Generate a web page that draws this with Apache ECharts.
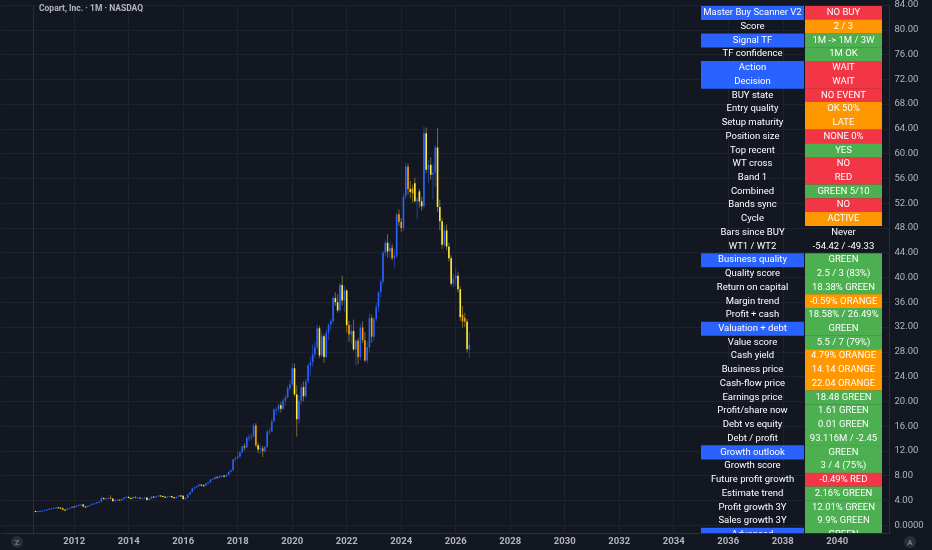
<!DOCTYPE html>
<html><head><meta charset="utf-8">
<script src="https://cdn.jsdelivr.net/npm/echarts@6/dist/echarts.min.js"></script>
<style>html,body{margin:0;padding:0;background:#131722;}#c{width:932px;height:550px;}</style>
</head><body><div id="c"></div>
<script>
// ---------- data ----------
const firstMonth = '2010-08';
const openVals = [
  2.30,2.22,2.24,2.30,2.38,
  2.45,2.55,2.66,2.72,2.82,2.88,2.84,2.80,2.50,2.47,2.70,2.78,
  3.02,2.95,3.18,3.30,3.36,3.02,3.00,3.12,3.28,3.45,3.55,3.70,
  3.78,4.40,4.26,4.32,4.42,4.30,3.88,4.06,4.12,4.02,4.22,4.46,
  4.58,4.40,4.32,4.58,4.44,4.46,4.30,4.36,4.46,4.08,4.28,4.62,
  4.56,4.64,4.80,4.72,4.60,4.54,4.62,4.70,4.50,4.36,4.58,4.82,
  4.75,4.22,4.42,4.98,5.35,5.92,6.12,6.32,6.56,6.46,6.40,6.72,
  6.92,7.38,7.48,7.76,7.70,7.96,7.98,7.86,8.12,8.62,8.86,10.62,
  10.80,11.10,11.76,12.72,12.56,14.12,14.16,14.32,16.12,12.90,12.22,12.42,
  11.95,12.65,15.10,15.15,16.80,18.70,18.72,19.38,18.80,20.10,20.65,22.12,
  22.75,25.35,21.12,17.12,20.10,22.30,20.82,23.26,25.82,26.30,27.60,28.75,
  31.80,27.42,30.50,27.15,31.10,32.40,32.96,36.70,36.00,34.70,38.80,36.30,
  37.90,32.32,30.80,31.35,28.40,29.80,27.15,31.92,29.90,26.60,28.72,33.48,
  30.45,33.30,35.20,37.60,39.30,44.00,45.60,44.20,44.80,43.10,43.52,50.20,
  49.00,48.00,53.10,57.90,54.30,54.40,55.20,52.30,53.90,52.30,51.50,63.30,
  57.40,58.20,56.60,56.90,61.00,51.40,49.10,45.30,47.60,45.00,43.10,39.00,
  39.80,40.30,38.10,34.00,33.50,32.90,28.40
];
const closeVals = [
  2.22,2.24,2.30,2.38,2.45,
  2.55,2.66,2.72,2.82,2.88,2.84,2.80,2.50,2.47,2.70,2.78,3.02,
  2.95,3.18,3.30,3.36,3.02,3.00,3.12,3.28,3.45,3.55,3.70,3.78,
  4.40,4.26,4.32,4.42,4.30,3.88,4.06,4.12,4.02,4.22,4.46,4.58,
  4.40,4.32,4.58,4.44,4.46,4.30,4.36,4.46,4.08,4.28,4.62,4.56,
  4.64,4.80,4.72,4.60,4.54,4.62,4.70,4.50,4.36,4.58,4.82,4.75,
  4.22,4.42,4.98,5.35,5.92,6.12,6.32,6.56,6.46,6.40,6.72,6.92,
  7.38,7.48,7.76,7.70,7.96,7.98,7.86,8.12,8.62,8.86,10.62,10.80,
  11.10,11.76,12.72,12.56,14.12,14.16,14.32,16.12,12.90,12.22,12.42,11.95,
  12.65,15.10,15.15,16.80,18.70,18.72,19.38,18.80,20.10,20.65,22.12,22.75,
  25.35,21.12,17.12,20.10,22.30,20.82,23.26,25.82,26.30,27.60,28.75,31.80,
  27.42,30.50,27.15,31.10,32.40,32.96,36.70,36.00,34.70,38.80,36.30,37.90,
  32.32,30.80,31.35,28.40,29.80,27.15,31.92,29.90,26.60,28.72,33.48,30.45,
  33.30,35.20,37.60,39.30,44.00,45.60,44.20,44.80,43.10,43.52,50.20,49.00,
  48.00,53.10,57.90,54.30,53.80,53.60,52.30,52.60,52.30,51.50,63.30,57.40,
  58.20,56.60,56.90,61.00,51.40,49.10,45.30,47.60,45.00,43.10,39.00,39.80,
  40.30,38.10,33.60,32.90,32.90,28.40,29.10
];
const lowVals = [
  2.14,2.13,2.20,2.26,2.34,
  2.41,2.50,2.58,2.68,2.76,2.77,2.70,2.36,2.40,2.43,2.62,2.74,
  2.88,2.92,3.12,3.22,2.96,2.92,2.95,3.08,3.24,3.38,3.48,3.62,
  3.74,4.12,4.14,4.20,4.22,3.80,3.84,3.96,3.94,3.96,4.18,4.40,
  4.30,4.22,4.24,4.36,4.34,4.24,4.22,4.30,4.02,3.98,4.24,4.46,
  4.46,4.58,4.62,4.52,4.44,4.48,4.56,4.38,4.26,4.30,4.52,4.62,
  4.10,4.12,4.38,4.92,5.30,5.78,6.04,6.24,6.30,6.22,6.30,6.62,
  6.86,7.28,7.40,7.56,7.62,7.80,7.72,7.80,8.06,8.50,8.80,10.30,
  10.70,10.90,11.60,12.10,12.50,13.60,13.80,14.20,12.60,11.60,11.50,11.00,
  11.70,12.50,14.60,15.00,16.60,17.80,18.20,18.20,18.60,19.30,20.40,21.80,
  22.60,20.80,14.30,16.40,19.40,20.00,20.60,22.90,24.20,25.60,27.00,28.30,
  27.00,27.20,26.20,27.00,29.90,31.50,32.50,35.40,34.30,34.50,35.50,34.50,
  31.10,29.60,29.30,28.10,25.80,26.00,26.60,29.40,26.40,26.10,28.00,29.50,
  29.80,32.90,34.40,36.80,38.90,43.50,43.20,43.10,42.80,41.60,43.10,48.30,
  47.40,47.50,52.60,53.40,52.80,52.10,52.10,49.40,51.30,50.80,51.10,56.80,
  55.20,55.80,52.60,54.60,50.60,47.60,44.60,44.90,44.40,42.60,38.60,38.40,
  38.60,37.60,33.00,31.90,32.00,27.90,27.00
];
const highVals = [
  2.34,2.28,2.35,2.43,2.49,
  2.59,2.71,2.76,2.87,2.93,2.94,2.92,2.84,2.62,2.75,2.83,3.06,
  3.10,3.22,3.36,3.44,3.42,3.10,3.18,3.32,3.50,3.60,3.74,3.84,
  4.62,4.48,4.40,4.50,4.84,4.36,4.12,4.20,4.24,4.30,4.52,4.66,
  4.66,4.46,4.62,4.64,4.54,4.50,4.40,4.52,4.50,4.34,4.68,4.70,
  4.72,4.86,4.88,4.78,4.68,4.70,4.78,4.76,4.56,4.64,4.88,4.90,
  4.78,4.50,5.04,5.42,6.00,6.22,6.42,6.64,6.66,6.58,6.82,7.02,
  7.46,7.58,7.86,7.92,8.06,8.10,8.08,8.22,8.72,9.02,10.74,11.10,
  11.80,12.00,12.90,13.20,14.30,14.70,14.80,16.40,16.50,13.40,13.00,12.80,
  12.90,15.40,15.70,17.10,18.90,19.10,19.70,19.90,20.50,21.10,22.50,23.50,
  26.20,26.10,22.60,21.00,22.90,23.20,23.60,26.00,27.20,29.20,29.60,32.40,
  32.20,31.30,30.80,31.60,32.60,33.30,37.00,37.60,37.30,39.10,40.30,38.60,
  38.10,33.00,32.40,33.20,30.00,30.20,32.50,32.90,31.20,29.70,34.20,34.00,
  33.60,35.90,37.80,39.70,44.30,46.00,47.00,45.80,45.40,44.60,50.40,51.00,
  49.60,53.60,58.60,58.40,55.60,55.00,56.10,53.00,54.30,53.00,64.40,64.20,
  59.00,59.40,58.40,61.40,64.10,52.60,49.60,48.40,48.60,45.60,43.60,40.60,
  41.40,40.90,38.60,35.40,34.30,33.30,31.20
];
// down months drawn in the orange tone of the indicator
const orangeMonths = ['2011-08','2012-01','2013-05','2013-09','2014-04','2014-06','2017-04',
  '2018-09','2018-12','2022-02','2022-06','2022-08','2022-09','2022-12','2023-09',
  '2023-12','2024-01','2024-04','2024-06','2026-04','2026-05'];
const axisStart = '2009-05';
const axisEnd = '2041-12';
const yearTicks = ['2012','2014','2016','2018','2020','2022','2024','2026','2028','2030','2032','2034','2036','2038','2040'];
const extraLineMonth = '2010-07';
const titleText = 'Copart, Inc. · 1M · NASDAQ';

const tableLabels = ['Master Buy Scanner V2','Score','Signal TF','TF confidence','Action','Decision','BUY state',
  'Entry quality','Setup maturity','Position size','Top recent','WT cross','Band 1','Combined','Bands sync','Cycle',
  'Bars since BUY','WT1 / WT2','Business quality','Quality score','Return on capital','Margin trend','Profit + cash',
  'Valuation + debt','Value score','Cash yield','Business price','Cash-flow price','Earnings price','Profit/share now',
  'Debt vs equity','Debt / profit','Growth outlook','Growth score','Future profit growth','Estimate trend',
  'Profit growth 3Y','Sales growth 3Y','Advanced'];
const tableLabelTone = ['B','','B','','B','B','','','','','','','','','','','','','B','','','','','B','','','','','','','','','B','','','','','','B'];
const tableValues = ['NO BUY','2 / 3','1M -> 1M / 3W','1M OK','WAIT','WAIT','NO EVENT','OK 50%','LATE','NONE 0%',
  'YES','NO','RED','GREEN 5/10','NO','ACTIVE','Never','-54.42 / -49.33','GREEN','2.5 / 3 (83%)','18.38% GREEN',
  '-0.59% ORANGE','18.58% / 26.49%','GREEN','5.5 / 7 (79%)','4.79% ORANGE','14.14 ORANGE','22.04 ORANGE',
  '18.48 GREEN','1.61 GREEN','0.01 GREEN','93.116M / -2.45','GREEN','3 / 4 (75%)','-0.49% RED','2.16% GREEN',
  '12.01% GREEN','9.9% GREEN','GREEN'];
const tableValueTone = ['R','O','G','G','R','R','R','O','O','R','G','R','R','G','R','O','','','G','G','G','O','G',
  'G','G','O','O','O','G','G','G','G','G','G','R','G','G','G','G'];

// ---------- helpers ----------
function addMonths(ym, n) {
  const p = ym.split('-').map(Number);
  const t = p[0] * 12 + (p[1] - 1) + n;
  return Math.floor(t / 12) + '-' + String(t % 12 + 1).padStart(2, '0');
}
const categories = [];
for (let m = axisStart; ; m = addMonths(m, 1)) { categories.push(m); if (m === axisEnd) break; }
const candles = openVals.map((o, k) => {
  const month = addMonths(firstMonth, k);
  const c = closeVals[k];
  const tone = c >= o ? 0 : (orangeMonths.indexOf(month) >= 0 ? 2 : 1);
  return [categories.indexOf(month), o, c, lowVals[k], highVals[k], tone];
});
const isYearTick = (v) => v.slice(5) === '01' && yearTicks.indexOf(v.slice(0, 4)) >= 0;

const BG = '#131722';
const toneColors = { B: '#2962ff', R: '#f23645', G: '#4caf50', O: '#ff9800' };
const bodyColors = ['#2962ff', '#ffeb3b', '#ff9800'];
const wickColors = ['rgba(41,98,255,0.55)', 'rgba(230,215,60,0.45)', 'rgba(230,215,60,0.45)'];

// ---------- table graphics ----------
const graphics = [];
const rowTop = 6, rowH = 13.73;
const lx = 701, lw = 103, rx = 805, rw = 77;
const tFont = '9.5px Roboto, "Noto Sans", sans-serif';
tableLabels.forEach((lab, k) => {
  const y = rowTop + k * rowH;
  if (tableLabelTone[k]) graphics.push({ type: 'rect', z: 10, silent: true,
    shape: { x: lx, y: y, width: lw, height: rowH + 0.3 }, style: { fill: toneColors[tableLabelTone[k]] } });
  if (tableValueTone[k]) graphics.push({ type: 'rect', z: 10, silent: true,
    shape: { x: rx, y: y, width: rw, height: rowH + 0.3 }, style: { fill: toneColors[tableValueTone[k]] } });
  graphics.push({ type: 'text', z: 11, silent: true, x: lx + lw / 2, y: y + rowH / 2,
    style: { text: lab, fill: '#ffffff', font: tFont, align: 'center', verticalAlign: 'middle' } });
  graphics.push({ type: 'text', z: 11, silent: true, x: rx + rw / 2, y: y + rowH / 2,
    style: { text: tableValues[k], fill: '#ffffff', font: tFont, align: 'center', verticalAlign: 'middle' } });
});
// time-axis band under the plot
graphics.push({ type: 'rect', z: 20, silent: true, shape: { x: 0, y: 533.5, width: 890, height: 17 }, style: { fill: BG } });
// small corner buttons
graphics.push({ type: 'circle', z: 21, silent: true, shape: { cx: 17, cy: 542, r: 6 }, style: { fill: '#2a2e39' } });
graphics.push({ type: 'text', z: 22, silent: true, x: 17, y: 542.5,
  style: { text: 'Z', fill: '#787b86', font: 'bold 8px Roboto, sans-serif', align: 'center', verticalAlign: 'middle' } });
graphics.push({ type: 'circle', z: 21, silent: true, shape: { cx: 910, cy: 542, r: 6 }, style: { fill: '#2a2e39' } });
graphics.push({ type: 'text', z: 22, silent: true, x: 910, y: 542.5,
  style: { text: 'A', fill: '#787b86', font: 'bold 8px Roboto, sans-serif', align: 'center', verticalAlign: 'middle' } });

// ---------- chart ----------
const chart = echarts.init(document.getElementById('c'), null, { renderer: 'canvas' });
chart.setOption({
  backgroundColor: BG,
  animation: false,
  title: { text: titleText, left: 39, top: 4.5, padding: 0,
    textStyle: { color: '#b2b5be', fontSize: 8.5, fontWeight: 'bold', fontFamily: 'Roboto, sans-serif' } },
  grid: { left: 1.5, right: 42.5, top: 1, bottom: -0.7, containLabel: false },
  xAxis: [
    { type: 'category', data: categories, boundaryGap: false,
      axisLine: { show: false, onZero: false }, axisTick: { show: false }, axisLabel: { show: false },
      splitLine: { show: true, interval: (i, v) => isYearTick(v), lineStyle: { color: '#1e222d', width: 1 } } },
    { type: 'category', data: categories, boundaryGap: false, position: 'bottom', offset: -17.2, z: 30,
      axisLine: { show: true, onZero: false, lineStyle: { color: '#2a2e39' } }, axisTick: { show: false },
      splitLine: { show: false },
      axisLabel: { show: true, interval: (i, v) => isYearTick(v), formatter: (v) => v.slice(0, 4),
        color: '#b2b5be', fontSize: 9.5, fontWeight: 'bold', fontFamily: 'Roboto, sans-serif', margin: 4 } }
  ],
  yAxis: {
    type: 'value', position: 'right', min: -4, max: 84, interval: 4,
    axisLine: { show: true, lineStyle: { color: '#2a2e39' } }, axisTick: { show: false },
    splitLine: { show: true, lineStyle: { color: '#1e222d', width: 1 } },
    axisLabel: { color: '#b2b5be', fontSize: 9.5, fontFamily: 'Roboto, sans-serif', margin: 5,
      formatter: (v) => v < 0 ? '' : (v === 0 ? '0.0000' : v.toFixed(2)) }
  },
  graphic: { elements: graphics },
  series: [{
    type: 'custom', xAxisIndex: 0, yAxisIndex: 0, clip: true,
    encode: { x: 0, y: [1, 2, 3, 4] },
    data: candles,
    renderItem: function (params, api) {
      const x = api.value(0), o = api.value(1), c = api.value(2), l = api.value(3), h = api.value(4), tone = api.value(5);
      const pO = api.coord([x, o]), pC = api.coord([x, c]), pL = api.coord([x, l]), pH = api.coord([x, h]);
      const top = Math.min(pO[1], pC[1]);
      const hgt = Math.max(Math.abs(pO[1] - pC[1]), 1);
      return { type: 'group', children: [
        { type: 'line', shape: { x1: pH[0], y1: pH[1], x2: pL[0], y2: pL[1] }, style: { stroke: wickColors[tone], lineWidth: 1 } },
        { type: 'rect', shape: { x: pO[0] - 0.8, y: top, width: 1.6, height: hgt }, style: { fill: bodyColors[tone] } }
      ] };
    },
    markLine: { silent: true, symbol: ['none', 'none'], label: { show: false },
      lineStyle: { color: '#2a2e39', type: 'solid', width: 1 }, data: [{ xAxis: extraLineMonth }] }
  }]
});
</script>
</body></html>
